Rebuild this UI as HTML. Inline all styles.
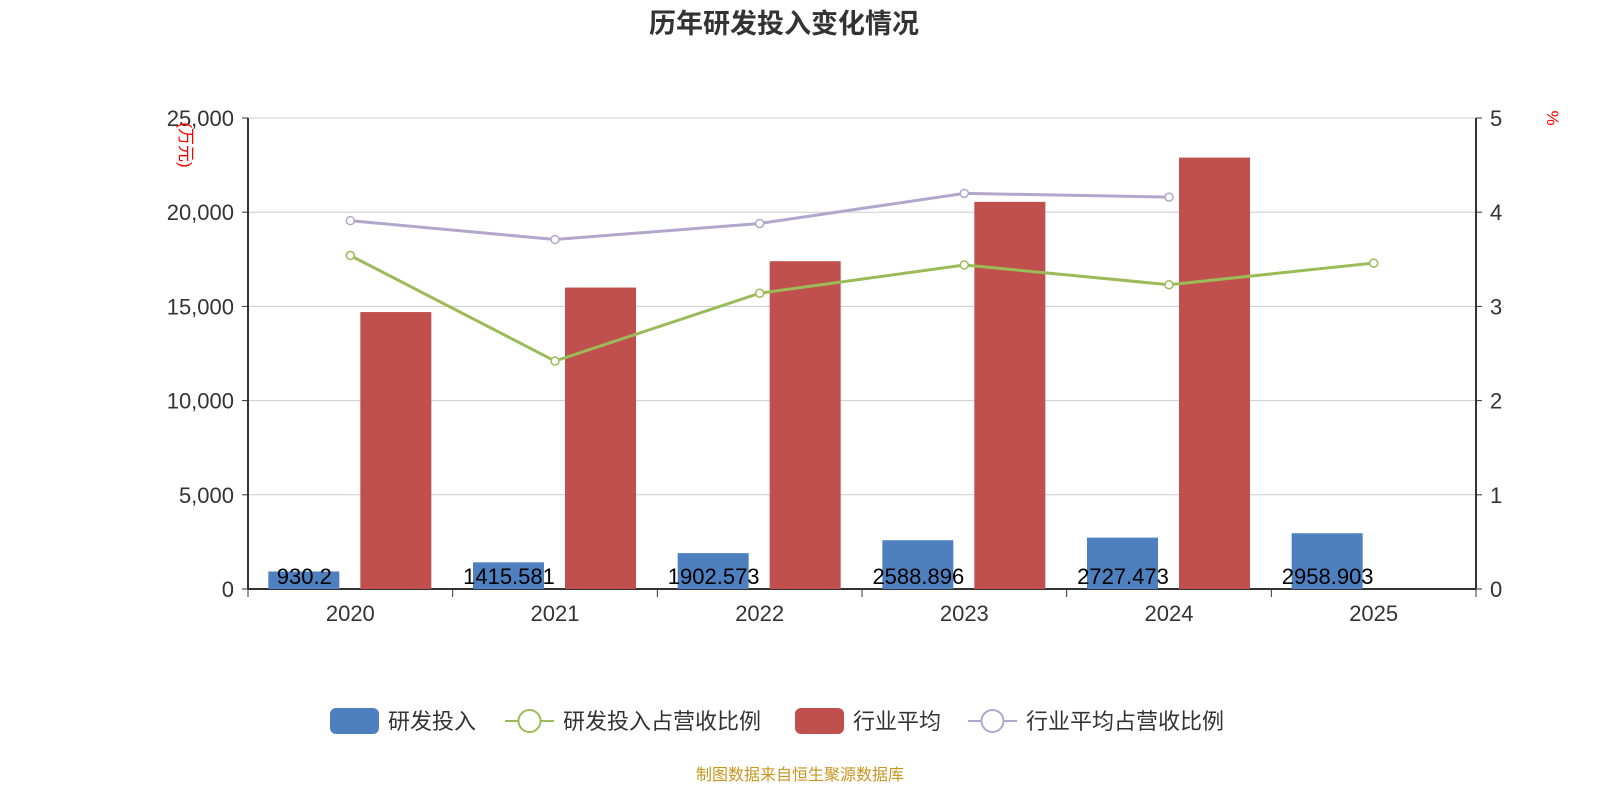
<!DOCTYPE html>
<html><head><meta charset="utf-8"><style>
body{margin:0;background:#fff;font-family:"Liberation Sans","Noto Sans CJK SC",sans-serif}
svg text{font-family:"Liberation Sans","Noto Sans CJK SC",sans-serif}
</style></head><body>
<svg id="c" width="1600" height="800">
<text x="784" y="33" text-anchor="middle" font-size="27" font-weight="bold" fill="#333">历年研发投入变化情况</text>
<text x="800" y="780" text-anchor="middle" font-size="16" fill="#c8961e">制图数据来自恒生聚源数据库</text>
<g id="plot"></g>
</svg>
<script>
const years=["2020","2021","2022","2023","2024","2025"];
const rd=[930.2,1415.581,1902.573,2588.896,2727.473,2958.903];
const rdLabels=["930.2","1415.581","1902.573","2588.896","2727.473","2958.903"];
const ind=[14700,16000,17400,20550,22900,null];
const rdRatio=[3.54,2.42,3.14,3.44,3.23,3.46];
const indRatio=[3.91,3.71,3.88,4.20,4.16,null];
const leftTicks=[0,5000,10000,15000,20000,25000];
const rightTicks=[0,1,2,3,4,5];
const L=248,R=1476,T=118,B=589;
const bw=(R-L)/years.length;
const yL=v=>B-(v/25000)*(B-T);
const yR=v=>B-(v/5)*(B-T);
const xC=i=>L+bw*(i+0.5);
const ns="http://www.w3.org/2000/svg";
const g=document.getElementById('plot');
function mk(t,a,p){const e=document.createElementNS(ns,t);for(const k in a)e.setAttribute(k,a[k]);(p||g).appendChild(e);return e;}
leftTicks.forEach((v,i)=>{
 if(v>0){const l=mk('line',{x1:L,x2:R,y1:yL(v),y2:yL(v),stroke:'#ccc'});
 
 }
 const t=mk('text',{x:L-14,y:yL(v)+8,'text-anchor':'end','font-size':22,fill:'#333'});t.textContent=v.toLocaleString('en-US');
 
 
 mk('line',{x1:L-6,x2:L,y1:yL(v),y2:yL(v),stroke:'#333'});
});
rightTicks.forEach(v=>{
 const t=mk('text',{x:R+14,y:yR(v)+8,'font-size':22,fill:'#333'});t.textContent=v;
 
 
 mk('line',{x1:R,x2:R+6,y1:yR(v),y2:yR(v),stroke:'#333'});
});
mk('line',{x1:L,x2:L,y1:T,y2:B,stroke:'#333','stroke-width':2});
mk('line',{x1:R,x2:R,y1:T,y2:B,stroke:'#333','stroke-width':2});
mk('line',{x1:L,x2:R,y1:B,y2:B,stroke:'#333','stroke-width':2});
for(let i=0;i<=years.length;i++)mk('line',{x1:L+bw*i,x2:L+bw*i,y1:B,y2:B+8,stroke:'#333'});
const ut=mk('text',{transform:'translate(180,145) rotate(90)','text-anchor':'middle','font-size':17,fill:'red'});ut.textContent='(万元)';


const pt=mk('text',{transform:'translate(1547,118) rotate(90)','text-anchor':'middle','font-size':17,fill:'red'});pt.textContent='%';


years.forEach((y,i)=>{
 const t=mk('text',{x:xC(i),y:621,'text-anchor':'middle','font-size':22,fill:'#333'});t.textContent=y;
 
 
 const b=mk('rect',{x:xC(i)-82,y:yL(rd[i]),width:71,height:B-yL(rd[i]),fill:'#4e7fbf'});
 
 
 if(ind[i]!=null){const r=mk('rect',{x:xC(i)+10,y:yL(ind[i]),width:71,height:B-yL(ind[i]),fill:'#c0504d'});
 
 }
});
years.forEach((y,i)=>{
 const t=mk('text',{x:xC(i)-46,y:584,'text-anchor':'middle','font-size':22,fill:'#000'});t.textContent=rdLabels[i];
 
 
});
function line(arr,col,name){
 const pts=[];arr.forEach((v,i)=>{if(v!=null)pts.push([xC(i),yR(v)]);});
 const p=mk('polyline',{points:pts.map(p=>p.join(',')).join(' '),fill:'none',stroke:col,'stroke-width':3});
 
 
 pts.forEach(q=>{const c=mk('circle',{cx:q[0],cy:q[1],r:4,fill:'#fff',stroke:col,'stroke-width':1.5});
 
 });
}
line(indRatio,'#b3a6cc','industry-ratio');
line(rdRatio,'#9bbb59','rd-ratio');
const lg=mk('g',{});


const items=[['研发投入','bar','#4e7fbf',330],['研发投入占营收比例','line','#9bbb59',505],['行业平均','bar','#c0504d',795],['行业平均占营收比例','line','#b3a6cc',968]];
items.forEach(it=>{
 const e=mk('g',{},lg);
 
 
 if(it[1]=='bar')mk('rect',{x:it[3],y:708,width:49,height:26,rx:6,fill:it[2]},e);
 else{mk('line',{x1:it[3],x2:it[3]+49,y1:721,y2:721,stroke:it[2],'stroke-width':2},e);mk('circle',{cx:it[3]+24.5,cy:721,r:11,fill:'#fff',stroke:it[2],'stroke-width':2},e);}
 const t=mk('text',{x:it[3]+58,y:729,'font-size':22,fill:'#333'},e);t.textContent=it[0];
});
</script>
</body></html>
